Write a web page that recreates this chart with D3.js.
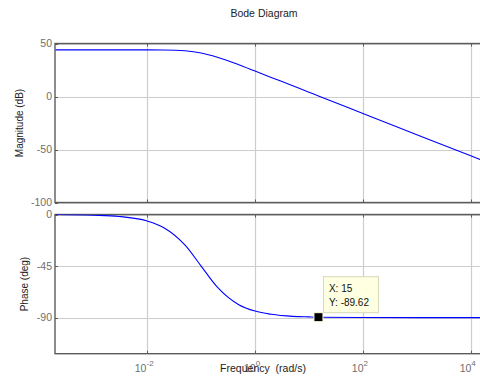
<!DOCTYPE html>
<html>
<head>
<meta charset="utf-8">
<script src="https://d3js.org/d3.v7.min.js"></script>
<style>
  body { margin: 0; background: #fff; }
  svg text { font-family: "Liberation Sans", Arial, sans-serif; }
</style>
</head>
<body>
<svg id="bode" width="480" height="377"></svg>
<script>
// values
var freq     = [0.0002, 0.001, 0.003, 0.01, 0.02, 0.05, 0.1, 0.2, 0.5, 1, 2, 5, 10, 15, 100, 1000, 10000, 16000];
var magDb    = [44, 44, 44, 44, 43.9, 43.1, 41.1, 37.1, 30, 24, 18, 10.1, 4.1, 0.5, -16, -36, -56, -60];
var phaseDeg = [0, -0.6, -1.7, -5.7, -11.3, -26.6, -45, -63.4, -78.7, -84.3, -87.1, -88.9, -89.4, -89.62, -89.9, -90, -90, -90];

var freqTicks  = [-2, 0, 2, 4];          // exponents of 10
var magTicks   = [50, 0, -50, -100];
var phaseTicks = [0, -45, -90];
var dataTip    = { x: 15, y: -89.62 };

var svg = d3.select('#bode');

var left = 55, right = 481.5;
var magTop = 43.5, magBottom = 202.5;
var phTop = 214.5, phBottom = 353.7;

var xScale = d3.scaleLog()
    .domain([Math.pow(10, -3.71), Math.pow(10, 4.2)])
    .range([left, right]);

var yMag = d3.scaleLinear().domain([-100, 50]).range([magBottom, magTop]);
var yPh  = d3.scaleLinear().domain([-121.5, 0]).range([phBottom, phTop]);

var gridColor = '#cdcdcd', axisColor = '#5c5c5c', tickText = '#6e6e6e';

function drawPanel(yScale, top, bottom, yTicks, id) {
  var g = svg.append('g');

  // grid
  g.selectAll('.vgrid').data(freqTicks).enter().append('line')
    .attr('x1', function(d) { return Math.round(xScale(Math.pow(10, d))) + 0.5; })
    .attr('x2', function(d) { return Math.round(xScale(Math.pow(10, d))) + 0.5; })
    .attr('y1', top).attr('y2', bottom)
    .attr('stroke', gridColor).attr('stroke-width', 1.2);

  g.selectAll('.hgrid').data(yTicks).enter().append('line')
    .attr('x1', left).attr('x2', right)
    .attr('y1', function(d) { return Math.round(yScale(d)) + 0.5; })
    .attr('y2', function(d) { return Math.round(yScale(d)) + 0.5; })
    .attr('stroke', gridColor).attr('stroke-width', 1.2);

  // little inward ticks
  g.selectAll('.ytick').data(yTicks).enter().append('line')
    .attr('x1', left).attr('x2', left + 3)
    .attr('y1', function(d) { return Math.round(yScale(d)) + 0.5; })
    .attr('y2', function(d) { return Math.round(yScale(d)) + 0.5; })
    .attr('stroke', axisColor);

  freqTicks.forEach(function(d) {
    var x = Math.round(xScale(Math.pow(10, d))) + 0.5;
    g.append('line').attr('x1', x).attr('x2', x).attr('y1', top).attr('y2', top + 3).attr('stroke', axisColor);
    g.append('line').attr('x1', x).attr('x2', x).attr('y1', bottom).attr('y2', bottom - 3).attr('stroke', axisColor);
  });

  // y tick labels
  g.selectAll('.ylab').data(yTicks).enter().append('text')
    .attr('x', left - 3)
    .attr('y', function(d) { return yScale(d); })
    .attr('dy', '0.35em')
    .attr('text-anchor', 'end')
    .attr('font-size', 10.5)
    .attr('fill', tickText)
    .text(function(d) { return d; });

  // box
  g.append('rect')
    .attr('x', left).attr('y', top)
    .attr('width', right - left).attr('height', bottom - top)
    .attr('fill', 'none').attr('stroke', axisColor).attr('stroke-width', 1.4);

  svg.append('clipPath').attr('id', id)
    .append('rect').attr('x', left).attr('y', top).attr('width', right - left).attr('height', bottom - top);
  return g;
}

var magPanel = drawPanel(yMag, magTop, magBottom, magTicks, 'clipMag');
var phPanel  = drawPanel(yPh, phTop, phBottom, phaseTicks, 'clipPh');

var pts = freq.map(function(f, i) { return { f: f, m: magDb[i], p: phaseDeg[i] }; });

var magLine = d3.line()
    .x(function(d) { return xScale(d.f); })
    .y(function(d) { return yMag(d.m); })
    .curve(d3.curveMonotoneX);

var phLine = d3.line()
    .x(function(d) { return xScale(d.f); })
    .y(function(d) { return yPh(d.p); })
    .curve(d3.curveMonotoneX);

magPanel.append('path').datum(pts)
  .attr('d', magLine).attr('fill', 'none')
  .attr('stroke', '#0000ff').attr('stroke-width', 1.1)
  .attr('clip-path', 'url(#clipMag)');

phPanel.append('path').datum(pts)
  .attr('d', phLine).attr('fill', 'none')
  .attr('stroke', '#0000ff').attr('stroke-width', 1.1)
  .attr('clip-path', 'url(#clipPh)');

// x tick labels 10^n
var xl = svg.selectAll('.xlab').data(freqTicks).enter().append('text')
  .attr('x', function(d) { return xScale(Math.pow(10, d)) - 3; })
  .attr('y', 372)
  .attr('text-anchor', 'middle')
  .attr('font-size', 10.5)
  .attr('fill', tickText);
xl.append('tspan').text('10');
xl.append('tspan').attr('dy', -6).attr('font-size', 8).text(function(d) { return d; });

// titles
svg.append('text')
  .attr('x', 264).attr('y', 17)
  .attr('text-anchor', 'middle')
  .attr('font-size', 10.5).attr('fill', '#222')
  .text('Bode Diagram');

svg.append('text')
  .attr('transform', 'translate(22.5,' + (magTop + magBottom) / 2 + ') rotate(-90)')
  .attr('text-anchor', 'middle')
  .attr('font-size', 10).attr('fill', '#222')
  .text('Magnitude (dB)');

svg.append('text')
  .attr('transform', 'translate(27.5,' + (phTop + phBottom) / 2 + ') rotate(-90)')
  .attr('text-anchor', 'middle')
  .attr('font-size', 10).attr('fill', '#222')
  .text('Phase (deg)');

svg.append('text')
  .attr('x', 263).attr('y', 372)
  .attr('text-anchor', 'middle')
  .attr('font-size', 10.5).attr('fill', '#222')
  .attr('xml:space', 'preserve')
  .text('Frequency  (rad/s)');

// data tip
var tx = xScale(dataTip.x), ty = yPh(dataTip.y);
var tip = svg.append('g');
tip.append('rect')
  .attr('x', tx + 5).attr('y', ty - 40.5)
  .attr('width', 55).attr('height', 36)
  .attr('fill', '#ffffe1').attr('stroke', '#d8d8b8');
tip.append('text')
  .attr('x', tx + 10.5).attr('y', ty - 25)
  .attr('font-size', 10).attr('fill', '#111')
  .text('X: ' + dataTip.x);
tip.append('text')
  .attr('x', tx + 10.5).attr('y', ty - 11.5)
  .attr('font-size', 10).attr('fill', '#111')
  .text('Y: ' + dataTip.y);
tip.append('rect')
  .attr('x', tx - 4.5).attr('y', ty - 4.5)
  .attr('width', 9).attr('height', 9)
  .attr('fill', '#000').attr('stroke', '#ffffe1').attr('stroke-width', 1);
</script>
</body>
</html>
